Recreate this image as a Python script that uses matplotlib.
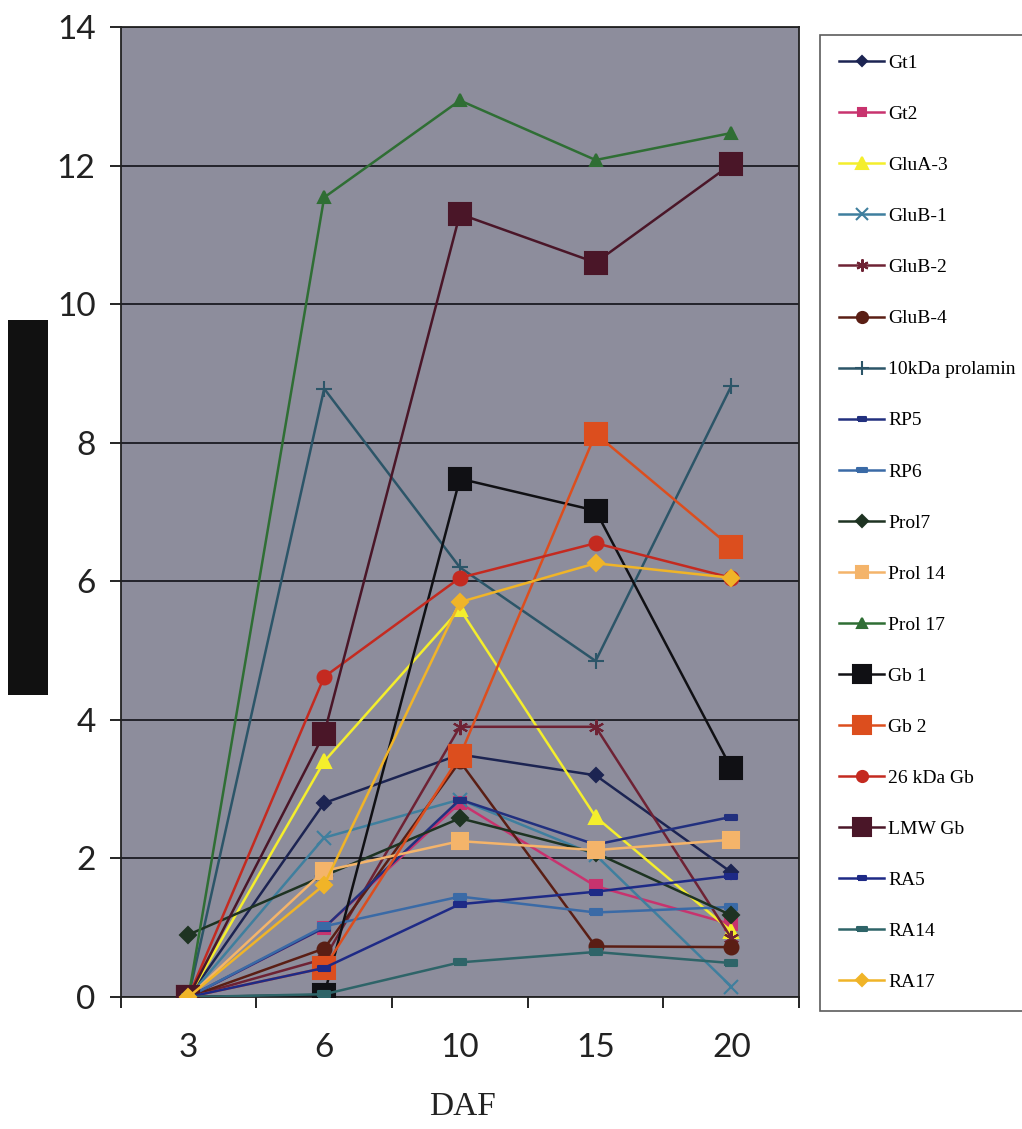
import matplotlib
matplotlib.use("Agg")
import matplotlib.pyplot as plt
from matplotlib.patches import Rectangle

# days after flowering
daf = ["3", "6", "10", "15", "20"]

gt1 = [0, 2.8, 3.5, 3.2, 1.8]
gt2 = [0, 1.0, 2.8, 1.6, 1.05]
glua3 = [0, 3.4, 5.6, 2.6, 0.95]
glub1 = [0, 2.3, 2.85, 2.05, 0.15]
glub2 = [0, 0.55, 3.9, 3.9, 0.85]
glub4 = [0, 0.7, 3.4, 0.73, 0.72]
prolamin10 = [0, 8.78, 6.2, 4.85, 8.82]
rp5 = [0, 1.0, 2.85, 2.2, 2.6]
rp6 = [0, 1.02, 1.45, 1.22, 1.3]
prol7 = [0.9, 1.75, 2.58, 2.08, 1.18]
prol14 = [0, 1.82, 2.25, 2.12, 2.27]
prol17 = [0, 11.54, 12.94, 12.08, 12.47]
gb1 = [0, 0.03, 7.48, 7.02, 3.3]
gb2 = [0, 0.42, 3.48, 8.13, 6.49]
kda26 = [0, 4.62, 6.05, 6.55, 6.05]
lmw = [0, 3.8, 11.3, 10.6, 12.02]
ra5 = [0, 0.42, 1.34, 1.52, 1.75]
ra14 = [0, 0.04, 0.5, 0.65, 0.49]
ra17 = [0, 1.62, 5.7, 6.26, 6.05]

dash = [(-1, -0.45), (1, -0.45), (1, 0.45), (-1, 0.45), (-1, -0.45)]

series = [
    ("Gt1", gt1, "#1c2452", "D", 7),
    ("Gt2", gt2, "#c8336e", "s", 8),
    ("GluA-3", glua3, "#f4ee2c", "^", 10),
    ("GluB-1", glub1, "#3f7f9e", "x", 10),
    ("GluB-2", glub2, "#6e2234", (6, 2, 0), 11),
    ("GluB-4", glub4, "#5a1e14", "o", 10),
    ("10kDa prolamin", prolamin10, "#2c5568", "+", 12),
    ("RP5", rp5, "#22307e", dash, 8),
    ("RP6", rp6, "#3a6aa6", dash, 9),
    ("Prol7", prol7, "#1e3322", "D", 8),
    ("Prol 14", prol14, "#f4b46a", "s", 11),
    ("Prol 17", prol17, "#2f6e34", "^", 9),
    ("Gb 1", gb1, "#101014", "s", 16),
    ("Gb 2", gb2, "#dc4e1e", "s", 16),
    ("26 kDa Gb", kda26, "#c42a20", "o", 10),
    ("LMW Gb", lmw, "#4a1628", "s", 16),
    ("RA5", ra5, "#1e2a86", dash, 8),
    ("RA14", ra14, "#2e6468", dash, 9),
    ("RA17", ra17, "#f0b428", "D", 8),
]

fig = plt.figure(figsize=(10.22, 11.29), dpi=100)
ax = fig.add_axes([0.118, 0.1169, 0.6640, 0.8592])
ax.set_facecolor("#8d8d9c")

x = list(range(len(daf)))
handles = []
for name, vals, color, marker, ms in series:
    h, = ax.plot(x, vals, color=color, marker=marker, markersize=ms,
                 markerfacecolor=color, markeredgecolor=color,
                 markeredgewidth=1.5, linewidth=1.8, label=name, zorder=3)
    handles.append(h)

ax.set_xlim(-0.5, len(daf) - 0.5)
ax.set_ylim(0, 14)
ax.set_yticks(range(0, 15, 2))
ax.set_yticklabels([str(v) for v in range(0, 15, 2)], fontsize=24,
                   family="Lato", color="#222222")
ax.yaxis.grid(True, color="#1a1a22", linewidth=1.3, zorder=1)
ax.set_axisbelow(True)

ax.set_xticks(x)
ax.set_xticklabels(daf, fontsize=24, family="Lato", color="#222222")
ax.set_xticks([i - 0.5 for i in range(len(daf) + 1)], minor=True)
ax.tick_params(axis="x", which="major", length=0, pad=26)
ax.tick_params(axis="x", which="minor", length=8, width=1.2, direction="out")
ax.tick_params(axis="y", length=8, width=1.2, pad=10)

for s in ax.spines.values():
    s.set_color("#222222")
    s.set_linewidth(1.3)

fig.text(0.452, 0.006, "DAF", fontsize=24, family="Liberation Serif",
         color="#222222", ha="center", va="bottom")

# blacked-out axis title
fig.patches.append(Rectangle((8 / 1022, 1 - 695 / 1129), 40 / 1022, 375 / 1129,
                             transform=fig.transFigure, facecolor="#111111",
                             edgecolor="none"))

leg = fig.legend(handles=handles, loc="upper left",
                 bbox_to_anchor=(820 / 1022, 1 - 35 / 1129),
                 prop={"family": "Liberation Serif", "size": 14},
                 frameon=True, fancybox=False, edgecolor="#333333",
                 handlelength=2.3, handletextpad=0.2, labelspacing=1.72,
                 borderpad=1.0, borderaxespad=0.0, markerscale=0.8)
leg.get_frame().set_linewidth(1.2)

fig.savefig("out.png", dpi=100, facecolor="white")
